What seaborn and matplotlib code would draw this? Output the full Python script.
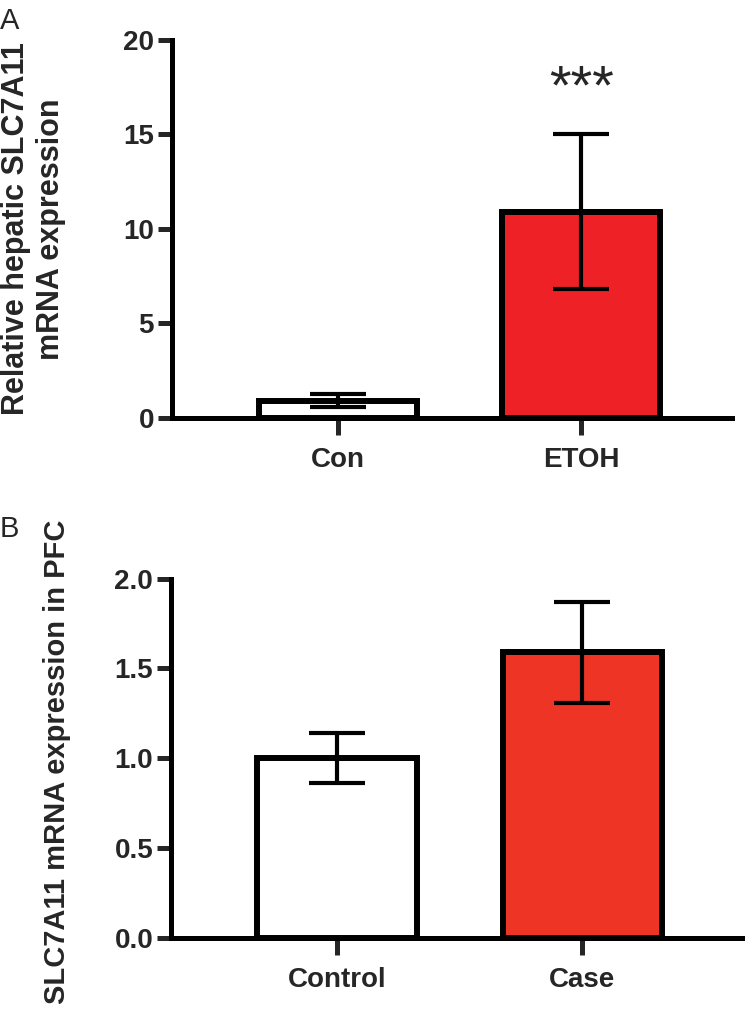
import pandas as pd
import matplotlib
matplotlib.use("Agg")
import matplotlib.pyplot as plt
import seaborn as sns

# panel A data
groups_a = ["Con", "ETOH"]
mean_a = [0.9, 10.9]
err_a = [0.35, 4.1]
colors_a = ["#FFFFFF", "#EE2226"]
ticks_a = [0, 5, 10, 15, 20]

# panel B data
groups_b = ["Control", "Case"]
mean_b = [1.0, 1.59]
err_b = [0.14, 0.28]
colors_b = ["#FFFFFF", "#EE3424"]
ticks_b = [0.0, 0.5, 1.0, 1.5, 2.0]

sns.set_style("white")
plt.rcParams['font.family'] = ['Liberation Sans', 'DejaVu Sans']

fig = plt.figure(figsize=(7.48, 10.26), dpi=100)
ax_a = fig.add_axes([0.230, 0.593, 0.749, 0.368])
ax_b = fig.add_axes([0.229, 0.086, 0.763, 0.350])


def draw_panel(ax, groups, means, errs, colors, ticks, xlim, fmt):
    df = pd.DataFrame({"group": groups, "value": means})
    sns.barplot(data=df, x="group", y="value", hue="group", palette=colors,
                saturation=1, width=0.65, edgecolor="black", linewidth=4.3,
                legend=False, errorbar=None, ax=ax, zorder=2)
    ax.errorbar(groups, means, yerr=errs, fmt="none", ecolor="black",
                elinewidth=3, capsize=20, capthick=3, zorder=3)
    ax.set_xlim(xlim)
    ax.set_ylim(ticks[0], ticks[-1])
    ax.set_yticks(ticks)
    ax.set_yticklabels([fmt.format(t) for t in ticks])
    sns.despine(ax=ax)
    for s in ["left", "bottom"]:
        ax.spines[s].set_linewidth(3.6)
        ax.spines[s].set_color("black")
    ax.tick_params(axis="x", direction="out", length=12, width=3.6, pad=9,
                   labelsize=20, bottom=True)
    ax.tick_params(axis="y", direction="out", length=10, width=3.6, pad=3,
                   labelsize=20, left=True)
    for lab in ax.get_xticklabels() + ax.get_yticklabels():
        lab.set_fontweight("bold")
    ax.set_xlabel("")


draw_panel(ax_a, groups_a, mean_a, err_a, colors_a, ticks_a, (-0.68, 1.62), "{:.0f}")
ax_a.set_ylabel("Relative hepatic SLC7A11\nmRNA expression", fontsize=22,
                fontweight="bold", linespacing=1.2)
ax_a.yaxis.set_label_coords(-0.19, 0.5)
ax_a.text(1, 17.4, "***", ha="center", va="center", fontsize=40)

draw_panel(ax_b, groups_b, mean_b, err_b, colors_b, ticks_b, (-0.675, 1.65), "{:.1f}")
ax_b.set_ylabel("SLC7A11 mRNA expression in PFC", fontsize=21, fontweight="bold")
ax_b.yaxis.set_label_coords(-0.175, 0.49)

fig.text(0.0, 0.993, "A", fontsize=21, va="top", ha="left")
fig.text(0.0, 0.498, "B", fontsize=21, va="top", ha="left")

fig.savefig("out.png", dpi=100)
